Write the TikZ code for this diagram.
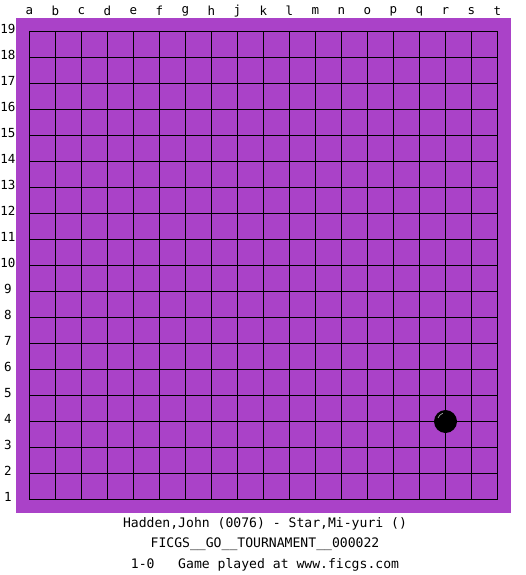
\documentclass[tikz,border=0pt]{standalone}
\usepackage{fontspec}
\setmonofont{DejaVu Sans Mono}
\definecolor{board}{RGB}{170,66,200}
\begin{document}
\begin{tikzpicture}[x=1pt,y=-1pt,
  lbl/.style={font=\ttfamily\fontsize{12.5}{14}\selectfont, inner sep=0pt},
  captext/.style={font=\ttfamily\fontsize{13.1}{15}\selectfont, inner sep=0pt},
  gridline/.style={black, line width=1pt},
  stone/.style={circle, fill=black, minimum size=23pt, inner sep=0pt}]
\useasboundingbox (0,0) rectangle (525,575);
\fill[white] (0,0) rectangle (525,575);
\fill[board] (16,18) rectangle (511,513);
\foreach \i in {0,...,18} {
  \draw[gridline] (29.5+26*\i,31.5) -- (29.5+26*\i,499.5);
  \draw[gridline] (29.5,31.5+26*\i) -- (497.5,31.5+26*\i);
}
\foreach \l [count=\i from 0] in {a,b,c,d,e,f,g,h,j,k,l,m,n,o,p,q,r,s,t} {
  \node[lbl] (col\l) at (29.5+26*\i,11) {\l};
}
\foreach \r in {1,...,19} {
  \node[lbl] (row\r) at (8,499-26*\r+26-2) {\r};
}
\node[stone] (r4) at (445.5,421.5) {};
\draw[gray!70, line width=0.7pt] (438,418) arc[start angle=200, end angle=250, radius=8];
\node[captext] (players) at (265,524) {Hadden,John (0076) - Star,Mi-yuri ()};
\node[captext] (event) at (265,544.5) {FICGS\_\_GO\_\_TOURNAMENT\_\_000022};
\node[captext] (result) at (265,565) {1-0\ \ \ Game played at www.ficgs.com};
\end{tikzpicture}
\end{document}
